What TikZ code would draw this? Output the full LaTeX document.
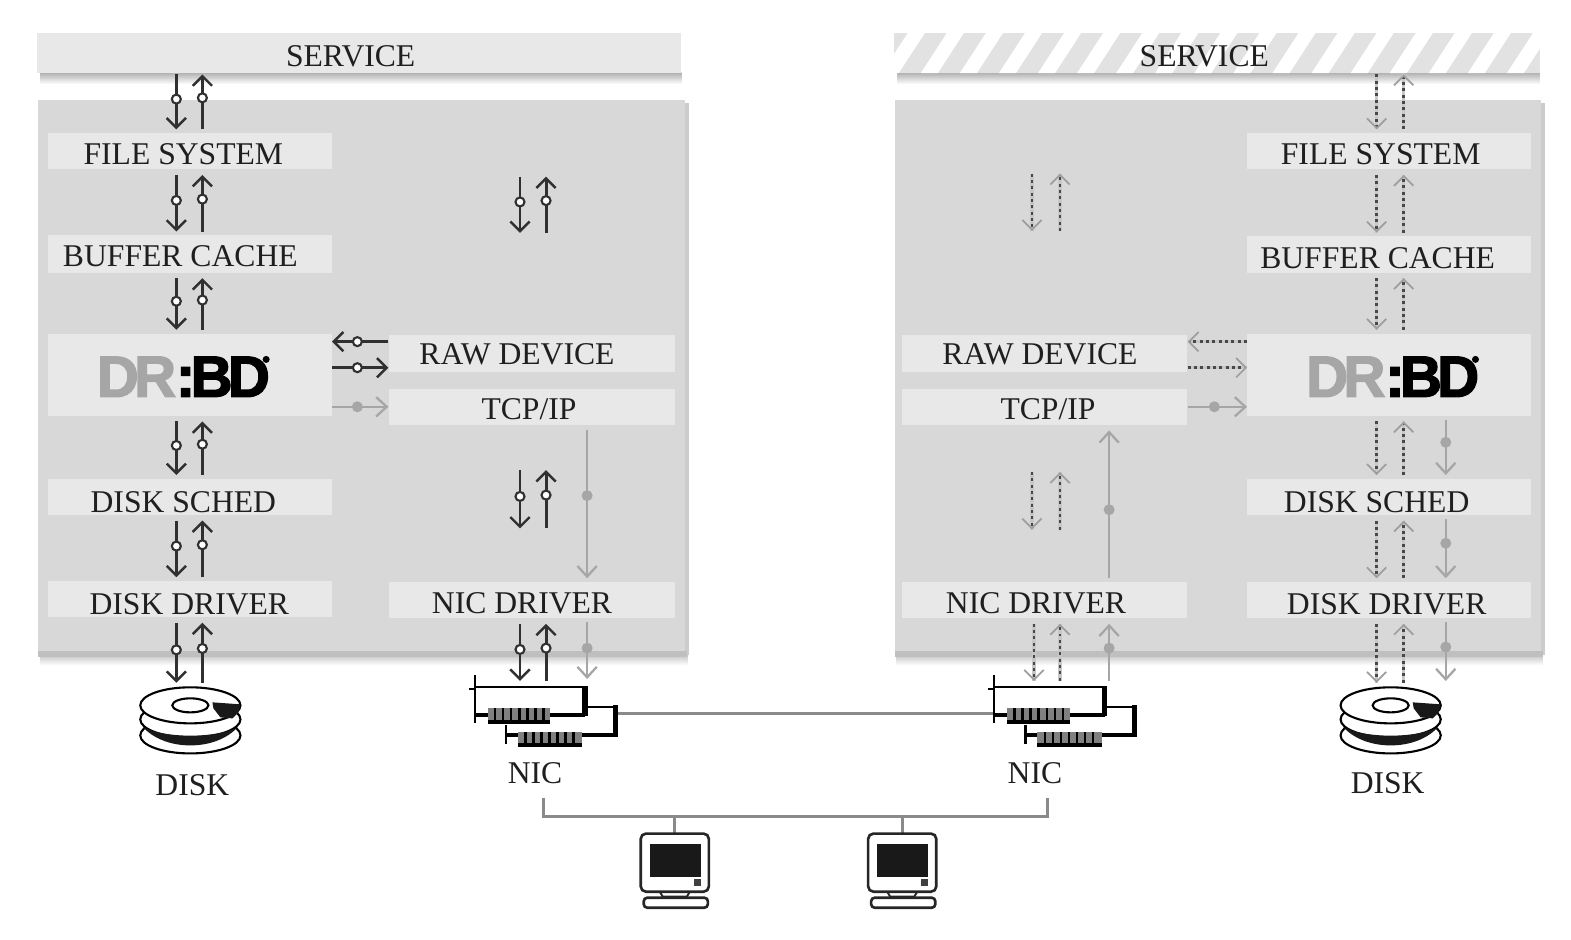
\documentclass[tikz,border=0pt]{standalone}
\usepackage{fontspec}
\setmainfont{Liberation Serif}
\newfontfamily\logofont[LetterSpace=-8,BoldFeatures={FakeBold=2.5}]{Liberation Sans}
\usetikzlibrary{arrows.meta,fit,decorations.markings}

\definecolor{panelgray}{HTML}{D8D8D8}
\definecolor{boxgray}{HTML}{E8E8E8}
\definecolor{hatchgray}{HTML}{E2E2E2}
\definecolor{sigdark}{HTML}{303030}
\definecolor{siggray}{HTML}{A6A6A6}
\definecolor{dotdark}{HTML}{484848}
\definecolor{busgray}{HTML}{8A8A8A}

\tikzset{
	layerbox/.style={fill=boxgray, inner sep=0pt},
	panelbox/.style={fill=panelgray, inner sep=0pt},
	layertext/.style={inner sep=0pt, yshift=-0.5pt, text=black!88, font=\fontsize{18}{20}\selectfont},
	ringat/.style={postaction={decorate, decoration={markings, mark=at position #1 with {\filldraw[solid, fill=white, draw=sigdark, line width=1.2pt] (0,0) circle (4.5);}}}},
	dotat/.style={postaction={decorate, decoration={markings, mark=at position #1 with {\fill[siggray] (0,0) circle (5.5);}}}},
	sigline/.style={draw=sigdark, line width=1.7pt, -{Straight Barb[length=5.5pt, width=11pt, line width=1.4pt]}},
	dotline/.style={preaction={draw=black!22, line width=1.8pt, solid, -}, draw=dotdark, line width=1.4pt, dash pattern=on 1.7pt off 1.9pt, -{Straight Barb[length=5.5pt, width=11pt, line width=1pt, color=black!38]}},
	grayline/.style={draw=siggray, line width=1.4pt, -{Straight Barb[length=6pt, width=11pt, line width=1.3pt]}},
	downgap/.style={shorten <=3pt, shorten >=2pt},
	upgap/.style={shorten <=2pt, shorten >=3pt},
	netline/.style={draw=busgray, line width=1.7pt},
	disk/.pic={
		\foreach \y in {30,14} \filldraw[fill=white, draw=black, line width=1.2pt] (0,\y) ellipse (50 and 18);
		\fill[black!90] (-47,22) .. controls (-25,46) and (25,46) .. (47,22) .. controls (25,33) and (-25,33) .. cycle;
		\filldraw[fill=white, draw=black, line width=1.2pt] (0,0) ellipse (50 and 18);
		\draw[black, line width=1.2pt] (0,0) ellipse (18 and 7);
		\fill[black!90] (22,-3) -- (50,-1) -- (48,7) -- (42,13) -- (30,12) -- (23,3) -- cycle;
	},
	niccard/.pic={
		\fill[white] (31,20) rectangle (140,48);
		\fill[white] (0,0) rectangle (110,28);
		\draw[black, line width=1.3pt] (110,20) -- (140,20);
		\draw[black, line width=3pt] (140,18) -- (140,50);
		\draw[black, line width=2.2pt] (140,48) -- (107,48) (43,48) -- (31,48);
		\draw[black, line width=1.2pt] (31,38) -- (31,57);
		\fill[black] (43,45) rectangle (107,60);
		\fill[gray] (43,45) rectangle (107,56);
		\foreach \x in {49,57,...,104} \fill[black] (\x,45) rectangle ++(2.5,11);
		\draw[black, line width=1.5pt] (0,0) -- (110,0);
		\draw[black, line width=3pt] (110,-1) -- (110,29);
		\draw[black, line width=2.2pt] (110,28) -- (75,28) (13,28) -- (0,28);
		\draw[black, line width=1.2pt] (0,-12) -- (0,36) (-6,2) -- (0,2);
		\fill[black] (13,21) rectangle (75,37);
		\fill[gray] (13,21) rectangle (75,33);
		\foreach \x in {19,27,...,74} \fill[black] (\x,21) rectangle ++(2.5,12);
	},
	pcset/.pic={
		\filldraw[fill=white, draw=black!85, line width=1.5pt, rounded corners=3pt] (-34,0) rectangle (34,58);
		\fill[black!90] (-25,10) rectangle (26,43);
		\fill[black!75] (19,45) rectangle (26,52);
		\draw[black!85, line width=1.1pt] (-15,58) -- (-12,63) (15,58) -- (12,63) (-12,63) -- (12,63);
		\filldraw[fill=white, draw=black!85, line width=1.5pt, rounded corners=2pt] (-31,64) rectangle (33,74);
	}
}

% one pair of signal arrows between two levels
\newcommand{\ringpair}[4]{
	\draw[sigline, downgap, ringat=.47] (#1,0 |- #3) -- (#1,0 |- #4);
	\draw[sigline, upgap, ringat=.55] (#2,0 |- #4) -- (#2,0 |- #3);
}
\newcommand{\dotpair}[4]{
	\draw[dotline, downgap] (#1,0 |- #3) -- (#1,0 |- #4);
	\draw[dotline, upgap] (#2,0 |- #4) -- (#2,0 |- #3);
}
\newcommand{\logomark}[3]{
	\node[inner sep=0pt, font=\logofont\bfseries\fontsize{33}{33}\selectfont] (#1) at (#2,#3) {\textcolor{siggray}{DR}\textcolor{black}{:BD}};
	\fill[black] (#1.north east) ++(-4,3) circle (3.5);
}

\begin{document}
\begin{tikzpicture}[x=0.02004cm, y=-0.02004cm]
	\useasboundingbox (0,0) rectangle (1568,938.1);

	% left machine
	\shade[top color=black!32, bottom color=white] (40,72) rectangle (680,84);
	\node[fill=boxgray, inner sep=0pt, fit={(37,33) (680,73)}] (svcL) {};
	\shade[top color=black!30, bottom color=white] (40,650) rectangle (686,664);
	\fill[black!20] (684,103) rectangle (688,654);
	\node[panelbox, fit={(38,100) (684,650)}] (panelL) {};
	\fill[black!25] (38,650) rectangle (686,656);

	% right machine
	\shade[top color=black!32, bottom color=white] (896,72) rectangle (1537,84);
	\node[fill=hatchgray, inner sep=0pt, fit={(892,33) (1537,73)}] (svcR) {};
	\begin{scope}
		\clip (892,33) rectangle (1537,73);
		\foreach \i in {880,919,...,1540} {
			\fill[white] (\i,73) -- ++(17,0) -- ++(26,-40) -- ++(-17,0) -- cycle;
		}
	\end{scope}
	\shade[top color=black!30, bottom color=white] (895,650) rectangle (1540,664);
	\fill[black!20] (1538,103) rectangle (1542,654);
	\node[panelbox, fit={(893,100) (1538,650)}] (panelR) {};
	\fill[black!25] (893,650) rectangle (1540,656);

	\node[layertext] (svcLtxt) at (350,55) {SERVICE};
	\node[layertext] (svcRtxt) at (1202,55) {SERVICE};

	% boxes, left machine
	\node[layerbox, fit={(48,133) (331,169)}] (fsL) {};
	\node[layerbox, fit={(48,235) (331,272)}] (bcL) {};
	\node[layerbox, fit={(48,333) (331,415)}] (drbdL) {};
	\node[layerbox, fit={(48,478) (331,514)}] (schedL) {};
	\node[layerbox, fit={(48,580) (331,616)}] (driverL) {};
	\node[layerbox, fit={(388,334) (674,371)}] (rawL) {};
	\node[layerbox, fit={(388,388) (674,424)}] (tcpL) {};
	\node[layerbox, fit={(388,581) (674,617)}] (nicdrvL) {};
	% boxes, right machine
	\node[layerbox, fit={(1245,133) (1528,169)}] (fsR) {};
	\node[layerbox, fit={(1245,236) (1528,272)}] (bcR) {};
	\node[layerbox, fit={(1245,333) (1528,415)}] (drbdR) {};
	\node[layerbox, fit={(1245,478) (1528,514)}] (schedR) {};
	\node[layerbox, fit={(1245,581) (1528,617)}] (driverR) {};
	\node[layerbox, fit={(900,334) (1185,371)}] (rawR) {};
	\node[layerbox, fit={(900,388) (1185,424)}] (tcpR) {};
	\node[layerbox, fit={(900,581) (1185,617)}] (nicdrvR) {};

	\node[layertext] (fsLtxt) at (183,153) {FILE SYSTEM};
	\node[layertext] (bcLtxt) at (180,255) {BUFFER CACHE};
	\node[layertext] (schedLtxt) at (183,500) {DISK SCHED};
	\node[layertext] (driverLtxt) at (189,602) {DISK DRIVER};
	\node[layertext] (rawLtxt) at (516,353) {RAW DEVICE};
	\node[layertext] (tcpLtxt) at (528,408) {TCP/IP};
	\node[layertext] (nicdrvLtxt) at (521,601) {NIC DRIVER};
	\node[layertext] (fsRtxt) at (1378,153) {FILE SYSTEM};
	\node[layertext] (bcRtxt) at (1375,257) {BUFFER CACHE};
	\node[layertext] (schedRtxt) at (1374,500) {DISK SCHED};
	\node[layertext] (driverRtxt) at (1384,602) {DISK DRIVER};
	\node[layertext] (rawRtxt) at (1038,353) {RAW DEVICE};
	\node[layertext] (tcpRtxt) at (1046,408) {TCP/IP};
	\node[layertext] (nicdrvRtxt) at (1034,601) {NIC DRIVER};

	\logomark{logoL}{183}{376}
	\logomark{logoR}{1390}{376}

	% free ends of the arrows
	\coordinate (svcLend) at (350,69);
	\coordinate (svcRend) at (1202,69);
	\coordinate (diskLtop) at (190,685);
	\coordinate (diskRtop) at (1388,685);
	\coordinate (nicLtop) at (530,683);
	\coordinate (nicRtop) at (1045,683);
	\coordinate (upperLa) at (532,171);
	\coordinate (upperLb) at (532,236);
	\coordinate (lowerLa) at (532,464);
	\coordinate (lowerLb) at (532,531);
	\coordinate (upperRa) at (1045,168);
	\coordinate (upperRb) at (1045,234);
	\coordinate (lowerRa) at (1045,466);
	\coordinate (lowerRb) at (1045,532);

	% solid arrows, left machine
	\ringpair{176}{202}{svcLend}{fsL.north}
	\ringpair{176}{202}{fsL.south}{bcL.north}
	\ringpair{176}{202}{bcL.south}{drbdL.north}
	\ringpair{176}{202}{drbdL.south}{schedL.north}
	\ringpair{176}{202}{schedL.south}{driverL.north}
	\ringpair{176}{202}{driverL.south}{diskLtop}
	\ringpair{519}{545}{upperLa}{upperLb}
	\ringpair{519}{545}{lowerLa}{lowerLb}
	\ringpair{519}{545}{nicdrvL.south}{nicLtop}
	\draw[sigline, ringat=.55] (rawL.west |- 0,341) -- (drbdL.east |- 0,341);
	\draw[sigline, ringat=.45] (drbdL.east |- 0,367) -- (rawL.west |- 0,367);
	\draw[grayline, dotat=.45] (drbdL.east |- tcpL.west) -- (tcpL.west);
	\draw[grayline, dotat=.45, shorten <=3pt, shorten >=2pt] (586,0 |- tcpL.south) -- (586,0 |- nicdrvL.north);
	\draw[grayline, dotat=.45, shorten <=2pt, shorten >=3pt] (586,0 |- nicdrvL.south) -- (586,0 |- nicLtop);

	% dotted arrows, right machine
	\dotpair{1374}{1401}{svcRend}{fsR.north}
	\dotpair{1374}{1401}{fsR.south}{bcR.north}
	\dotpair{1374}{1401}{bcR.south}{drbdR.north}
	\dotpair{1374}{1401}{drbdR.south}{schedR.north}
	\dotpair{1374}{1401}{schedR.south}{driverR.north}
	\dotpair{1374}{1401}{driverR.south}{diskRtop}
	\dotpair{1030}{1058}{upperRa}{upperRb}
	\dotpair{1030}{1058}{lowerRa}{lowerRb}
	\dotpair{1032}{1058}{nicdrvR.south}{nicRtop}
	\draw[dotline] (drbdR.west |- 0,341) -- (rawR.east |- 0,341);
	\draw[dotline] (rawR.east |- 0,367) -- (drbdR.west |- 0,367);
	\draw[grayline, dotat=.45] (tcpR.east) -- (drbdR.west |- tcpR.east);
	\draw[grayline, dotat=.46, shorten <=2pt, shorten >=3pt] (1107,0 |- nicdrvR.north) -- (1107,0 |- tcpR.south);
	\draw[grayline, dotat=.55, shorten <=2pt, shorten >=3pt] (1107,0 |- nicRtop) -- (1107,0 |- nicdrvR.south);
	\draw[grayline, dotat=.42, shorten <=2pt, shorten >=2pt] (1443,0 |- drbdR.south) -- (1443,0 |- schedR.north);
	\draw[grayline, dotat=.42, shorten <=2pt, shorten >=2pt] (1443,0 |- schedR.south) -- (1443,0 |- driverR.north);
	\draw[grayline, dotat=.42, shorten <=2pt, shorten >=3pt] (1443,0 |- driverR.south) -- (1443,0 |- diskRtop);

	% machines and network
	\coordinate (nicLport) at (614,712);
	\coordinate (nicRport) at (992,712);
	\draw[netline] (nicLport) -- (nicRport);
	\pic at (190,704) {disk};
	\pic at (1388,704) {disk};
	\pic at (474,685.7) {niccard};
	\pic at (992.5,685.7) {niccard};

	\node[layertext] (diskLtxt) at (192,783) {DISK};
	\node[layertext] (diskRtxt) at (1385,781) {DISK};
	\node[layertext] (nicLtxt) at (534,771) {NIC};
	\node[layertext] (nicRtxt) at (1033,771) {NIC};

	\coordinate (busL) at (542,796);
	\coordinate (busR) at (1045,796);
	\coordinate (pcLtop) at (673.5,832);
	\coordinate (pcRtop) at (900.5,832);
	\coordinate (busPcL) at (673.5,815);
	\coordinate (busPcR) at (900.5,815);
	\draw[netline] (busL) -- (busL |- busPcL) -- (busR |- busPcR) -- (busR);
	\draw[netline] (busPcL) -- (pcLtop);
	\draw[netline] (busPcR) -- (pcRtop);
	\pic at (pcLtop) {pcset};
	\pic at (pcRtop) {pcset};
\end{tikzpicture}
\end{document}
